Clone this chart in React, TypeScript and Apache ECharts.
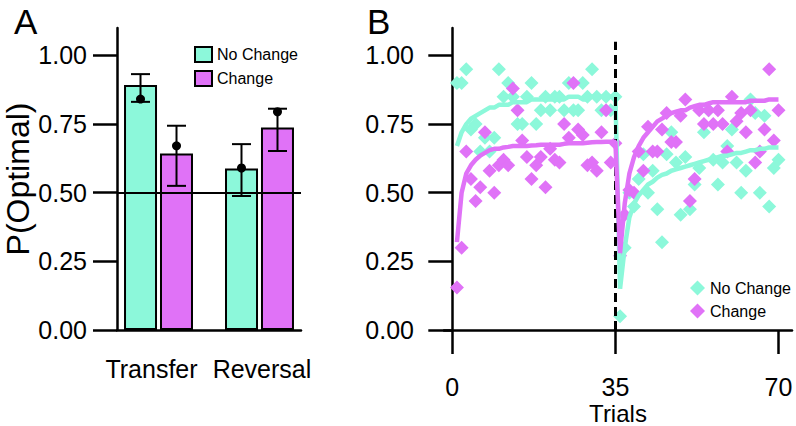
import React, { useEffect, useRef } from 'react';
import * as echarts from 'echarts';

// ---------- Panel A data ----------
const categories = ['Transfer', 'Reversal'];
const barNoChange = [0.892, 0.588];
const barChange = [0.643, 0.738];
const errNoChangeLow = [0.831, 0.488];
const errNoChangeHigh = [0.932, 0.677];
const errNoChangePoint = [0.841, 0.59];
const errChangeLow = [0.525, 0.652];
const errChangeHigh = [0.744, 0.806];
const errChangePoint = [0.671, 0.795];
const referenceLevel = 0.5;

// ---------- Panel B data ----------
const yTicks = [0, 0.25, 0.5, 0.75, 1];
const xTicksB = [0, 35, 70];
const switchTrial = 35;
const trials = [
  1, 2, 3, 4, 5, 6, 7, 8, 9, 10, 11, 12, 13, 14, 15, 16, 17, 18, 19, 20,
  21, 22, 23, 24, 25, 26, 27, 28, 29, 30, 31, 32, 33, 34, 35, 36, 37, 38, 39, 40,
  41, 42, 43, 44, 45, 46, 47, 48, 49, 50, 51, 52, 53, 54, 55, 56, 57, 58, 59, 60,
  61, 62, 63, 64, 65, 66, 67, 68, 69, 70,
];
const pointsNoChange = [
  0.90, 0.90, 0.95, 0.73, 0.75, 0.65, 0.70, 0.65, 0.70, 0.95,
  0.85, 0.90, 0.85, 0.75, 0.75, 0.85, 0.90, 0.75, 0.80, 0.85,
  0.80, 0.85, 0.85, 0.80, 0.90, 0.80, 0.80, 0.90, 0.85, 0.95,
  0.85, 0.80, 0.85, 0.80, 0.85, 0.05, 0.30, 0.50, 0.45, 0.55,
  0.64, 0.50, 0.58, 0.44, 0.32, 0.64, 0.72, 0.61, 0.42, 0.63,
  0.44, 0.53, 0.59, 0.72, 0.80, 0.62, 0.53, 0.61, 0.67, 0.73,
  0.61, 0.50, 0.58, 0.84, 0.79, 0.50, 0.78, 0.45, 0.59, 0.62,
];
const pointsChange = [
  0.155, 0.30, 0.65, 0.55, 0.47, 0.52, 0.72, 0.58, 0.50, 0.60,
  0.62, 0.60, 0.88, 0.80, 0.69, 0.63, 0.55, 0.60, 0.63, 0.52,
  0.66, 0.62, 0.61, 0.75, 0.70, 0.90, 0.73, 0.71, 0.60, 0.61,
  0.58, 0.72, 0.80, 0.61, 0.68, 0.27, 0.42, 0.51, 0.50, 0.65,
  0.58, 0.74, 0.65, 0.65, 0.73, 0.79, 0.685, 0.685, 0.78, 0.84,
  0.47, 0.55, 0.80, 0.75, 0.80, 0.75, 0.80, 0.75, 0.65, 0.85,
  0.76, 0.79, 0.72, 0.80, 0.61, 0.65, 0.73, 0.95, 0.69, 0.80,
];
const fitNoChange = [
  0.67, 0.72, 0.75, 0.77, 0.78, 0.79, 0.80, 0.81, 0.81, 0.82,
  0.82, 0.82, 0.83, 0.83, 0.83, 0.83, 0.84, 0.84, 0.84, 0.84,
  0.84, 0.84, 0.84, 0.84, 0.85, 0.85, 0.85, 0.84, 0.84, 0.85,
  0.85, 0.85, 0.85, 0.85, 0.85, 0.15, 0.30, 0.41, 0.46, 0.49,
  0.51, 0.53, 0.54, 0.555, 0.565, 0.57, 0.58, 0.585, 0.59, 0.595,
  0.60, 0.605, 0.61, 0.615, 0.62, 0.625, 0.63, 0.635, 0.635, 0.64,
  0.645, 0.645, 0.65, 0.655, 0.655, 0.66, 0.66, 0.665, 0.665, 0.665,
];
const fitChange = [
  0.32, 0.50, 0.57, 0.60, 0.62, 0.635, 0.645, 0.655, 0.66, 0.66,
  0.665, 0.667, 0.67, 0.67, 0.67, 0.67, 0.672, 0.673, 0.675, 0.675,
  0.675, 0.675, 0.675, 0.678, 0.68, 0.68, 0.68, 0.68, 0.682, 0.684,
  0.685, 0.685, 0.686, 0.686, 0.686, 0.28, 0.46, 0.57, 0.63, 0.67,
  0.70, 0.72, 0.74, 0.76, 0.77, 0.78, 0.79, 0.795, 0.80, 0.80,
  0.81, 0.815, 0.82, 0.82, 0.825, 0.83, 0.83, 0.83, 0.83, 0.83,
  0.83, 0.83, 0.83, 0.835, 0.835, 0.835, 0.835, 0.84, 0.84, 0.84,
];

const MINT = '#8cf8da';
const VIOLET = '#e072f7';
const FONT = 'Liberation Sans, Arial, Helvetica, sans-serif';

const makeErrRender = (offset: number) => (params: any, api: any) => {
  const x = api.value(0);
  const lo = api.coord([x, api.value(1)]);
  const hi = api.coord([x, api.value(2)]);
  const pt = api.coord([x, api.value(3)]);
  const cx = lo[0] + offset;
  const half = 9.5;
  const style = { stroke: '#000', lineWidth: 2 };
  return {
    type: 'group',
    children: [
      { type: 'line', shape: { x1: cx, y1: lo[1], x2: cx, y2: hi[1] }, style },
      { type: 'line', shape: { x1: cx - half, y1: hi[1], x2: cx + half, y2: hi[1] }, style },
      { type: 'line', shape: { x1: cx - half, y1: lo[1], x2: cx + half, y2: lo[1] }, style },
      { type: 'circle', shape: { cx, cy: pt[1], r: 4.5 }, style: { fill: '#000' } },
    ],
  };
};

const axisLineStyle = { show: true, lineStyle: { color: '#000', width: 2.5 } };

const yAxisBase = (gridIndex: number) => ({
  type: 'value',
  gridIndex,
  min: 0,
  max: 1.1,
  axisLine: axisLineStyle,
  axisTick: { show: true, length: 24, customValues: yTicks, lineStyle: { color: '#000', width: 2.5 } },
  axisLabel: {
    customValues: yTicks,
    formatter: (v: number) => v.toFixed(2),
    fontSize: 25,
    margin: 30,
    color: '#000',
    fontFamily: FONT,
  },
  splitLine: { show: false },
});

export default function App() {
  const ref = useRef<HTMLDivElement>(null);
  useEffect(() => {
    if (!ref.current) return;
    const chart = echarts.init(ref.current, undefined, { renderer: 'svg' });
    const option: any = {
      animation: false,
      backgroundColor: '#fff',
      textStyle: { fontFamily: FONT, color: '#000' },
      title: [
        { text: 'A', left: 14, top: 4, padding: 0, textStyle: { fontSize: 35, fontWeight: 'normal', color: '#000', fontFamily: FONT } },
        { text: 'B', left: 367, top: 4, padding: 0, textStyle: { fontSize: 35, fontWeight: 'normal', color: '#000', fontFamily: FONT } },
      ],
      legend: [
        {
          orient: 'vertical',
          left: 194,
          top: 46,
          padding: 0,
          icon: 'rect',
          itemWidth: 17,
          itemHeight: 15,
          itemGap: 7,
          selectedMode: false,
          data: ['No Change', 'Change'],
          itemStyle: { borderColor: '#000', borderWidth: 2 },
          textStyle: { fontSize: 16, color: '#000', fontFamily: FONT },
        },
        {
          orient: 'vertical',
          left: 690,
          top: 280,
          padding: 0,
          icon: 'diamond',
          itemWidth: 15,
          itemHeight: 15,
          itemGap: 7,
          selectedMode: false,
          data: ['B-No Change', 'B-Change'],
          formatter: (n: string) => n.replace('B-', ''),
          textStyle: { fontSize: 16, color: '#000', fontFamily: FONT },
        },
      ],
      grid: [
        { left: 117, top: 28, width: 184, height: 302, outerBoundsMode: 'none', containLabel: false },
        { left: 444, top: 28, width: 348, height: 302, outerBoundsMode: 'none', containLabel: false },
      ],
      xAxis: [
        {
          type: 'value',
          gridIndex: 0,
          min: 0.589,
          max: 2.411,
          axisLine: axisLineStyle,
          axisTick: { show: false },
          splitLine: { show: false },
          axisLabel: {
            customValues: [1, 2],
            formatter: (v: number) => (Math.round(v) === 1 ? '{t|' + categories[0] + '}' : '{r|' + categories[1] + '}'),
            margin: 26,
            fontSize: 25,
            color: '#000',
            fontFamily: FONT,
            rich: {
              t: { fontSize: 25, fontFamily: FONT, color: '#000', padding: [0, 14, 0, 0] },
              r: { fontSize: 25, fontFamily: FONT, color: '#000', padding: [0, 0, 0, 5] },
            },
          },
        },
        {
          type: 'value',
          gridIndex: 1,
          min: -1.78,
          max: 72.9,
          axisLine: axisLineStyle,
          axisTick: { show: true, length: 24, customValues: xTicksB, lineStyle: { color: '#000', width: 2.5 } },
          axisLabel: { customValues: xTicksB, fontSize: 25, lineHeight: 24, margin: 45, color: '#000', fontFamily: FONT },
          splitLine: { show: false },
          name: 'Trials',
          nameLocation: 'middle',
          nameMoveOverlap: false,
          nameGap: 72,
          nameTextStyle: { fontSize: 24, lineHeight: 22, color: '#000', fontFamily: FONT },
        },
      ],
      yAxis: [
        {
          ...yAxisBase(0),
          name: 'P(Optimal)',
          nameLocation: 'middle',
          nameMoveOverlap: false,
          nameRotate: 90,
          nameGap: 83,
          nameTextStyle: { fontSize: 32, lineHeight: 32, color: '#000', fontFamily: FONT },
        },
        yAxisBase(1),
      ],
      series: [
        {
          name: 'No Change',
          type: 'bar',
          xAxisIndex: 0,
          yAxisIndex: 0,
          barWidth: 33,
          barGap: '9%',
          data: categories.map((c, i) => [i + 1, barNoChange[i]]),
          itemStyle: { color: MINT, borderColor: '#000', borderWidth: 2 },
          markLine: {
            silent: true,
            symbol: ['none', 'none'],
            label: { show: false },
            lineStyle: { color: '#000', width: 2, type: 'solid' },
            data: [{ yAxis: referenceLevel }],
          },
        },
        {
          name: 'Change',
          type: 'bar',
          xAxisIndex: 0,
          yAxisIndex: 0,
          barWidth: 33,
          barGap: '9%',
          data: categories.map((c, i) => [i + 1, barChange[i]]),
          itemStyle: { color: VIOLET, borderColor: '#000', borderWidth: 2 },
        },
        {
          name: 'errNoChange',
          type: 'custom',
          xAxisIndex: 0,
          yAxisIndex: 0,
          z: 10,
          encode: { x: 0, y: [1, 2, 3] },
          renderItem: makeErrRender(-18),
          data: categories.map((c, i) => [i + 1, errNoChangeLow[i], errNoChangeHigh[i], errNoChangePoint[i]]),
        },
        {
          name: 'errChange',
          type: 'custom',
          xAxisIndex: 0,
          yAxisIndex: 0,
          z: 10,
          encode: { x: 0, y: [1, 2, 3] },
          renderItem: makeErrRender(18),
          data: categories.map((c, i) => [i + 1, errChangeLow[i], errChangeHigh[i], errChangePoint[i]]),
        },
        {
          name: 'B-No Change',
          type: 'scatter',
          xAxisIndex: 1,
          yAxisIndex: 1,
          symbol: 'diamond',
          symbolSize: 14,
          z: 2,
          itemStyle: { color: MINT, opacity: 1 },
          data: trials.map((t, i) => [t, pointsNoChange[i]]),
        },
        {
          name: 'B-Change',
          type: 'scatter',
          xAxisIndex: 1,
          yAxisIndex: 1,
          symbol: 'diamond',
          symbolSize: 14,
          z: 3,
          itemStyle: { color: VIOLET, opacity: 1 },
          data: trials.map((t, i) => [t, pointsChange[i]]),
        },
        {
          name: 'fitNoChange',
          type: 'line',
          xAxisIndex: 1,
          yAxisIndex: 1,
          showSymbol: false,
          symbol: 'none',
          z: 4,
          lineStyle: { color: MINT, width: 4.5 },
          itemStyle: { color: MINT },
          data: trials.map((t, i) => [t, fitNoChange[i]]),
        },
        {
          name: 'fitChange',
          type: 'line',
          xAxisIndex: 1,
          yAxisIndex: 1,
          showSymbol: false,
          symbol: 'none',
          z: 5,
          lineStyle: { color: VIOLET, width: 4.5 },
          itemStyle: { color: VIOLET },
          data: trials.map((t, i) => [t, fitChange[i]]),
          markLine: {
            silent: true,
            symbol: ['none', 'none'],
            label: { show: false },
            lineStyle: { color: '#000', width: 3, type: [9, 5] },
            data: [[{ coord: [switchTrial, 0] }, { coord: [switchTrial, 1.05] }]],
          },
        },
      ],
    };
    chart.setOption(option);
    return () => chart.dispose();
  }, []);
  return <div ref={ref} style={{ position: 'fixed', left: 0, top: 0, width: 796, height: 426 }} />;
}
